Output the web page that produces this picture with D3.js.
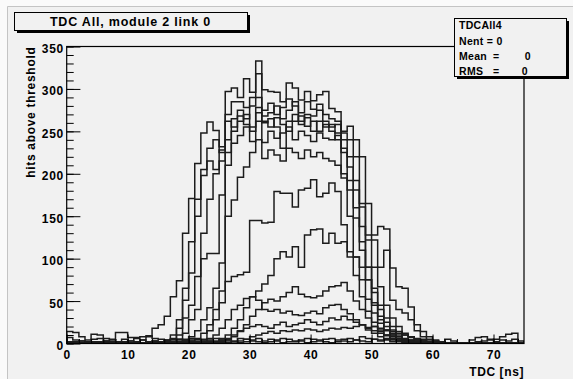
<!DOCTYPE html>
<html lang="en">
<head>
<meta charset="UTF-8"/>
<title>TDC All, module 2 link 0</title>
<script src="https://d3js.org/d3.v7.min.js"></script>
<style>
body {
  margin: 0;
  background: #fafafa;
  overflow: hidden;
}
svg {
  display: block;
}
text {
  font-family: 'Liberation Sans', Arial, Helvetica, sans-serif;
  font-weight: bold;
  fill: #000;
}
.tick text {
  font-size: 12px;
  letter-spacing: 0.6px;
}
.axis path {
  display: none;
}
.axis line {
  stroke: #000;
}
.hist {
  fill: none;
  stroke: #1c1c1c;
  stroke-width: 1.5;
}
.box {
  fill: #f1f1f1;
  stroke: #000;
  stroke-width: 1;
}
</style>
</head>
<body>
<svg width="573" height="379"></svg>
<script>
// TDC histograms, 1 ns bins from 0 to 75 ns (bin i = [i, i+1))
const noiseA = [14,13,8,4,11,10,6,5,13,13,7,7,8,9,6,
  5,4,6,5,4,6,5,3,4,6,4,5,3,6,5,
  4,6,3,5,4,6,5,3,4,6,5,4,5,6,4,
  5,6,4,8,6,5,4,6,5,3,4,3,4,3,2,
  3,2,5,3,1,1,4,7,8,4,5,8,11,12,3];
const noiseB = [7,4,3,2,5,6,3,4,2,5,3,6,4,2,3,
  2,3,1,2,3,2,1,2,3,1,2,3,2,1,2,
  3,2,1,2,3,1,2,2,3,1,2,3,2,1,2,
  3,2,4,3,2,5,3,4,2,3,2,1,2,1,1,
  1,2,1,0,1,0,1,2,3,5,2,4,3,5,1];
const h1 = [2,1,3,2,1,2,3,1,2,1,3,2,4,8,18,
  22,32,55,74,130,171,212,248,261,251,232,262,255,268,258,
  250,272,262,255,266,258,250,262,268,256,262,250,258,250,240,
  200,150,102,75,52,36,24,15,10,6,4,3,2,1,1,
  0,1,0,0,1,0,0,1,0,0,1,0,0,1,0];
const h2 = [1,2,0,1,2,1,0,2,1,1,0,2,1,2,3,
  2,4,10,28,65,120,170,205,230,240,225,297,301,290,312,
  296,333,299,297,296,285,307,301,287,297,286,293,297,277,273,
  240,208,148,110,75,48,32,20,12,8,5,3,2,1,1,
  1,0,0,1,0,0,1,0,0,1,0,1,0,0,1];
const h3 = [0,1,1,0,2,1,0,1,0,2,1,0,1,1,2,
  1,3,5,18,51,83,150,198,215,205,228,270,285,285,278,
  290,318,275,283,270,278,288,280,272,285,276,282,270,265,262,
  248,240,192,161,128,90,67,45,30,20,12,8,5,3,2,
  1,1,0,0,1,0,0,0,1,0,0,1,0,1,0];
const h4 = [1,0,1,1,0,1,2,0,1,0,1,1,0,2,1,
  2,1,3,10,30,45,79,130,170,200,215,240,265,275,265,
  280,290,268,272,280,265,275,285,262,270,268,275,262,255,258,
  250,256,240,220,165,128,138,135,89,67,65,43,22,14,8,
  4,2,1,0,1,0,0,1,0,0,1,0,0,0,1];
const h5 = [0,1,0,1,1,0,1,0,1,1,0,0,1,0,1,
  1,2,2,5,12,28,40,100,106,106,175,225,250,262,270,
  255,278,260,265,255,230,262,270,258,266,250,262,255,258,248,
  225,192,181,138,90,60,40,25,16,10,6,4,3,2,1,
  1,0,0,1,0,0,0,1,0,0,0,1,0,0,0];
const h6 = [1,0,0,1,0,1,0,1,0,0,1,0,0,1,0,
  1,1,2,3,5,8,15,28,42,65,95,210,236,245,255,
  238,262,237,250,242,248,255,240,250,245,238,248,242,240,245,
  230,220,220,165,122,122,90,110,51,40,36,28,15,8,5,
  3,1,1,0,0,1,0,0,1,0,0,0,1,0,0];
const h7 = [0,0,1,0,0,1,0,0,1,0,0,1,0,0,1,
  0,1,1,2,3,4,6,12,22,40,62,150,169,196,208,
  225,240,218,228,222,215,230,225,218,228,220,225,218,215,210,
  195,181,160,120,90,65,45,30,20,14,10,7,5,3,2,
  1,0,0,1,0,0,0,0,1,0,0,0,0,1,0];
const h8 = [0,1,0,0,1,0,0,1,0,0,0,1,0,0,1,
  0,1,0,1,2,3,4,5,15,28,48,73,79,81,84,
  145,145,142,143,179,177,177,161,181,183,193,173,177,189,179,
  140,102,80,55,38,25,16,10,6,4,3,2,1,1,0,
  1,0,0,0,1,0,0,0,0,1,0,0,0,0,0];
const h9 = [1,0,0,0,1,0,0,0,1,0,0,0,0,1,0,
  0,0,1,0,0,1,1,2,2,3,6,10,18,28,42,
  55,62,70,80,100,108,102,114,90,128,134,135,118,130,118,
  120,108,102,90,75,45,28,16,10,6,4,2,1,1,0,
  0,0,1,0,0,0,0,1,0,0,0,0,1,0,0];
const h10 = [0,0,1,0,0,0,1,0,0,0,1,0,0,0,0,
  1,0,0,0,1,0,0,1,1,2,3,4,8,15,22,
  32,40,48,52,50,55,60,67,58,55,54,56,62,67,68,
  72,62,50,40,30,20,14,9,6,4,2,1,1,0,0,
  0,0,0,1,0,0,0,0,0,0,1,0,0,0,0];
const h11 = [0,0,0,1,0,0,0,0,1,0,0,0,1,0,0,
  0,1,0,0,0,1,2,3,6,10,18,28,40,45,53,
  55,51,40,38,40,36,38,34,33,36,38,35,42,45,46,
  40,35,28,22,16,12,8,5,3,2,1,1,0,0,0,
  0,0,0,0,0,1,0,0,0,0,0,0,0,0,0];
const h12 = [0,0,0,0,0,1,0,0,0,0,0,1,0,0,0,
  0,0,0,1,0,0,0,0,1,2,4,6,10,14,18,
  20,22,20,18,22,25,20,22,24,28,25,22,26,30,28,
  32,28,25,22,18,15,12,10,8,6,5,4,3,2,1,
  1,0,0,0,0,0,0,0,0,0,0,0,0,0,0];
const h13 = [0,0,0,0,0,0,0,1,0,0,0,0,0,0,0,
  0,0,0,0,0,0,0,0,0,0,1,1,2,3,5,
  8,10,12,14,12,15,14,16,15,17,16,14,16,18,17,
  19,18,20,22,19,20,18,16,14,12,10,8,6,5,3,
  2,1,1,0,0,0,0,0,0,0,0,0,0,0,0];

const histograms = [noiseA, noiseB, h1, h2, h3, h4, h5, h6, h7, h8, h9, h10, h11, h12, h13];

const xMajor = [0, 10, 20, 30, 40, 50, 60, 70];
const xMinor = [0,2,4,6,8,10,12,14,16,18,20,22,24,26,28,30,32,34,36,38,40,42,44,46,48,50,52,54,56,58,60,62,64,66,68,70,72,74];
const yMajor = [0, 50, 100, 150, 200, 250, 300, 350];
const yMinor = [0,10,20,30,40,50,60,70,80,90,100,110,120,130,140,150,160,170,180,190,200,210,220,230,240,250,260,270,280,290,300,310,320,330,340,350];

const title = 'TDC All, module 2 link 0';
const statName = 'TDCAll4';
const statNent = 0;
const statMean = 0;
const statRms = 0;

const svg = d3.select('svg');

const frame = { left: 66.7, right: 524, top: 46.5, bottom: 343.5 };

const x = d3.scaleLinear()
  .domain([0, 75])
  .range([frame.left, frame.right]);

const y = d3.scaleLinear()
  .domain([0, 350])
  .range([frame.bottom, frame.top]);

// canvas with its bevel line on top / left
svg.append('rect')
  .attr('x', 7).attr('y', 6)
  .attr('width', 566).attr('height', 373)
  .attr('fill', '#f1f1f1');
svg.append('path')
  .attr('d', 'M7.5,379V6.5H573')
  .attr('fill', 'none')
  .attr('stroke', '#c4c4c4');

svg.append('clipPath')
  .attr('id', 'frameClip')
  .append('rect')
  .attr('x', frame.left).attr('y', frame.top)
  .attr('width', frame.right - frame.left)
  .attr('height', frame.bottom - frame.top);

// histograms as step outlines
const step = d3.line()
  .x((d) => x(d[0]))
  .y((d) => y(d[1]))
  .curve(d3.curveStepAfter);

const outline = (vals) => {
  const pts = [[0, 0]];
  vals.forEach((v, i) => pts.push([i, v]));
  pts.push([vals.length, vals[vals.length - 1]]);
  pts.push([vals.length, 0]);
  return pts;
};

svg.append('g')
  .attr('clip-path', 'url(#frameClip)')
  .selectAll('path')
  .data(histograms)
  .enter()
  .append('path')
  .attr('class', 'hist')
  .attr('d', (d) => step(outline(d)));

// frame
svg.append('rect')
  .attr('x', frame.left).attr('y', frame.top)
  .attr('width', frame.right - frame.left)
  .attr('height', frame.bottom - frame.top)
  .attr('fill', 'none')
  .attr('stroke', '#000')
  .attr('stroke-width', 1.2);

// axes, ticks pointing inside like ROOT
const yAxis = svg.append('g')
  .attr('class', 'axis')
  .attr('transform', `translate(${frame.left},0)`);
yAxis.append('g')
  .call(d3.axisLeft(y).tickValues(yMinor).tickSize(-7).tickFormat(''));
yAxis.append('g')
  .call(d3.axisLeft(y).tickValues(yMajor).tickSize(-13.7).tickPadding(3).tickFormat(d3.format('d')))
  .selectAll('text')
  .attr('dy', '0.5em');

const xAxis = svg.append('g')
  .attr('class', 'axis')
  .attr('transform', `translate(0,${frame.bottom})`);
xAxis.append('g')
  .call(d3.axisBottom(x).tickValues(xMinor).tickSize(-4.5).tickFormat(''));
xAxis.append('g')
  .call(d3.axisBottom(x).tickValues(xMajor).tickSize(-9).tickPadding(7).tickFormat(d3.format('d')))
  .selectAll('text')
  .attr('dy', '0.71em');

// axis titles
svg.append('text')
  .attr('transform', `translate(35,${frame.top}) rotate(-90)`)
  .attr('text-anchor', 'end')
  .style('font-size', '12px')
  .style('letter-spacing', '0.7px')
  .text('hits above threshold');

svg.append('text')
  .attr('x', frame.right)
  .attr('y', 376)
  .attr('text-anchor', 'end')
  .style('font-size', '12px')
  .style('letter-spacing', '0.6px')
  .text('TDC [ns]');

// boxes with ROOT style shadow
const shadowBox = (bx, by, bw, bh) => {
  svg.append('rect')
    .attr('x', bx + 3).attr('y', by + 3)
    .attr('width', bw).attr('height', bh)
    .attr('fill', '#000');
  svg.append('rect')
    .attr('class', 'box')
    .attr('x', bx + 0.5).attr('y', by + 0.5)
    .attr('width', bw).attr('height', bh);
};

shadowBox(14, 12, 233, 18);
svg.append('text')
  .attr('x', 14 + 233 / 2)
  .attr('y', 25.5)
  .attr('text-anchor', 'middle')
  .style('font-size', '12.5px')
  .style('letter-spacing', '0.8px')
  .text(title);

shadowBox(454, 18, 112, 58);
const stats = svg.append('g')
  .style('font-size', '10.5px')
  .style('letter-spacing', '0.3px');
stats.append('text').attr('x', 459).attr('y', 29).text(statName);
stats.append('text').attr('x', 459).attr('y', 45).text(`Nent = ${statNent}`);
stats.append('text').attr('x', 459).attr('y', 60).text('Mean');
stats.append('text').attr('x', 493).attr('y', 60).text('=');
stats.append('text').attr('x', 531).attr('y', 60).attr('text-anchor', 'end').text(statMean);
stats.append('text').attr('x', 459).attr('y', 75).text('RMS');
stats.append('text').attr('x', 493).attr('y', 75).text('=');
stats.append('text').attr('x', 528).attr('y', 75).attr('text-anchor', 'end').text(statRms);
</script>
</body>
</html>
